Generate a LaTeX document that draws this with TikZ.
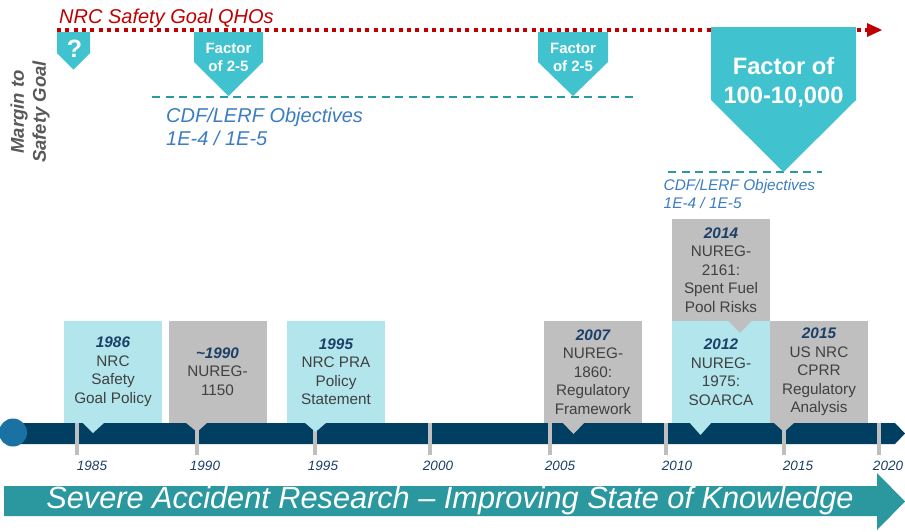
\documentclass[tikz,border=0pt]{standalone}
\usepackage{fontspec}
\setmainfont{Liberation Sans}
\definecolor{qred}{HTML}{C00000}
\definecolor{penta}{HTML}{40C2CF}
\definecolor{dteal}{HTML}{2A9A9F}
\definecolor{cdfblue}{HTML}{3C7DC4}
\definecolor{navybar}{HTML}{003F62}
\definecolor{dotblue}{HTML}{1A72A3}
\definecolor{lcyan}{HTML}{B2E6EC}
\definecolor{lgray}{HTML}{BFBFBF}
\definecolor{yrnavy}{HTML}{1B3F68}
\definecolor{bodygray}{HTML}{404040}
\definecolor{mgray}{HTML}{595959}
\definecolor{arrteal}{HTML}{2B979F}
\newcommand\yrtxt[1]{{\bfseries\itshape\color{yrnavy}#1}\\}
\tikzset{
  evbox/.style={minimum width=98pt, minimum height=102pt, inner sep=0pt, align=center,
    text=bodygray, font=\fontsize{15.3pt}{18.5pt}\selectfont},
  cyanbox/.style={evbox, fill=lcyan},
  graybox/.style={evbox, fill=lgray},
  tickmark/.style={draw=lgray, line width=4.5pt},
  yearlab/.style={text=yrnavy, font=\fontsize{13.5pt}{16pt}\selectfont\itshape, inner sep=0pt},
  objline/.style={draw=dteal, line width=2.5pt, dash pattern=on 8pt off 5.5pt},
  pentxt/.style={text=white, align=center, inner sep=0pt, font=\bfseries\fontsize{15pt}{18pt}\selectfont},
  cdftxt/.style={text=cdfblue, align=left, inner sep=0pt, anchor=west},
}
\begin{document}
\begin{tikzpicture}[x=1pt,y=-1pt]
\useasboundingbox (0,0) rectangle (905,531);
\fill[white] (0,0) rectangle (905,531);

% red QHO line
\coordinate (qhoS) at (57,30);
\coordinate (qhoE) at (867,30);
\draw[qred, line width=4pt, dash pattern=on 4pt off 4.33pt] (qhoS) -- (qhoE);
\fill[qred] (867,23) -- (882,30) -- (867,37) -- cycle;
\node[text=qred, anchor=west, inner sep=0pt, font=\fontsize{20pt}{24pt}\selectfont\itshape] (qho) at (59,18.5) {NRC Safety Goal QHOs};

% objective lines
\coordinate (o1s) at (152,97); \coordinate (o1e) at (633,97);
\coordinate (o2s) at (668,172); \coordinate (o2e) at (822,172);
\draw[objline] (o1s) -- (o1e);
\draw[objline] (o2s) -- (o2e);

% pentagons
\fill[penta] (57,32) -- (90,32) -- (90,53) -- (73.5,69.5) -- (57,53) -- cycle;
\node[pentxt, font=\bfseries\fontsize{25pt}{28pt}\selectfont] (qm) at (74.5,48.5) {?};
\fill[penta] (194,32) -- (263,32) -- (263,62) -- (228.5,96) -- (194,62) -- cycle;
\node[pentxt] (f1) at (228.5,57) {Factor\\of 2-5};
\fill[penta] (538,32) -- (608,32) -- (608,62) -- (573,96) -- (538,62) -- cycle;
\node[pentxt] (f2) at (573,57) {Factor\\of 2-5};
\fill[penta] (711,27) -- (856,27) -- (856,100) -- (783.5,172) -- (711,100) -- cycle;
\node[pentxt, font=\bfseries\fontsize{23.7pt}{29pt}\selectfont] (f3) at (783.5,82.5) {Factor of\\100-10,000};

% objective texts
\node[cdftxt, font=\fontsize{20pt}{23pt}\selectfont\itshape] (cdf1) at (166,126.5) {CDF/LERF Objectives\\1E-4 / 1E-5};
\node[cdftxt, font=\fontsize{15.4pt}{18.5pt}\selectfont\itshape] (cdf2) at (663.5,194) {CDF/LERF Objectives\\1E-4 / 1E-5};

% margin label
\node[rotate=90, text=mgray, align=center, inner sep=0pt, font=\bfseries\itshape\fontsize{18.5pt}{22pt}\selectfont] (margin) at (30,112) {Margin to\\Safety Goal};

% timeline bar
\fill[navybar] (13,423) -- (895,423) -- (905,433.5) -- (895,444) -- (13,444) -- cycle;
\fill[dotblue] (13,432.5) circle (14);

% ticks
\foreach \x/\n in {77/t85,197/t90,315/t95,430/t00,550/t05,666/t10,784/t15,879/t20}{
  \coordinate (\n a) at (\x,423); \coordinate (\n b) at (\x,455);
  \draw[tickmark] (\n a) -- (\n b);
}
\node[yearlab] (y85) at (92,466) {1985};
\node[yearlab] (y90) at (205,466) {1990};
\node[yearlab] (y95) at (323,466) {1995};
\node[yearlab] (y00) at (438,466) {2000};
\node[yearlab] (y05) at (560,466) {2005};
\node[yearlab] (y10) at (677,466) {2010};
\node[yearlab] (y15) at (798,466) {2015};
\node[yearlab] (y20) at (888,466) {2020};

% event boxes
\node[cyanbox] (b1986) at (113,371.5) {\yrtxt{1986}NRC\\Safety\\Goal Policy};
\fill[lcyan] (82,422) -- (105,422) -- (93,433) -- cycle;
\node[graybox] (b1990) at (217.5,371.5) {\yrtxt{\textasciitilde1990}NUREG-\\1150};
\fill[lgray] (185,422) -- (208,422) -- (197,432) -- cycle;
\node[cyanbox] (b1995) at (336,371.5) {\yrtxt{1995}NRC PRA\\Policy\\Statement};
\fill[lcyan] (304,422) -- (327,422) -- (315.5,432) -- cycle;
\node[graybox] (b2007) at (593,372) {\yrtxt{2007}NUREG-\\1860:\\Regulatory\\Framework};
\fill[lgray] (562,422) -- (585,422) -- (573.5,434) -- cycle;
\node[graybox] (b2014) at (721,270) {\yrtxt{2014}NUREG-\\2161:\\Spent Fuel\\Pool Risks};
\node[cyanbox] (b2012) at (721,372) {\yrtxt{2012}NUREG-\\1975:\\SOARCA};
\fill[lcyan] (689,422) -- (712,422) -- (700.5,435) -- cycle;
\fill[lgray] (728,320.5) -- (752,320.5) -- (740,333) -- cycle;
\node[graybox] (b2015) at (819,372) {\yrtxt{2015}US NRC\\CPRR\\Regulatory\\Analysis};
\fill[lgray] (773,422) -- (795,422) -- (784,432) -- cycle;

% bottom arrow
\fill[arrteal] (4,486) -- (877,486) -- (877,473) -- (905,501.5) -- (877,530) -- (877,516) -- (4,516) -- cycle;
\node[text=white, inner sep=0pt, font=\fontsize{30.7pt}{36pt}\selectfont\itshape] (sar) at (450,501) {Severe Accident Research -- Improving State of Knowledge};
\end{tikzpicture}
\end{document}
